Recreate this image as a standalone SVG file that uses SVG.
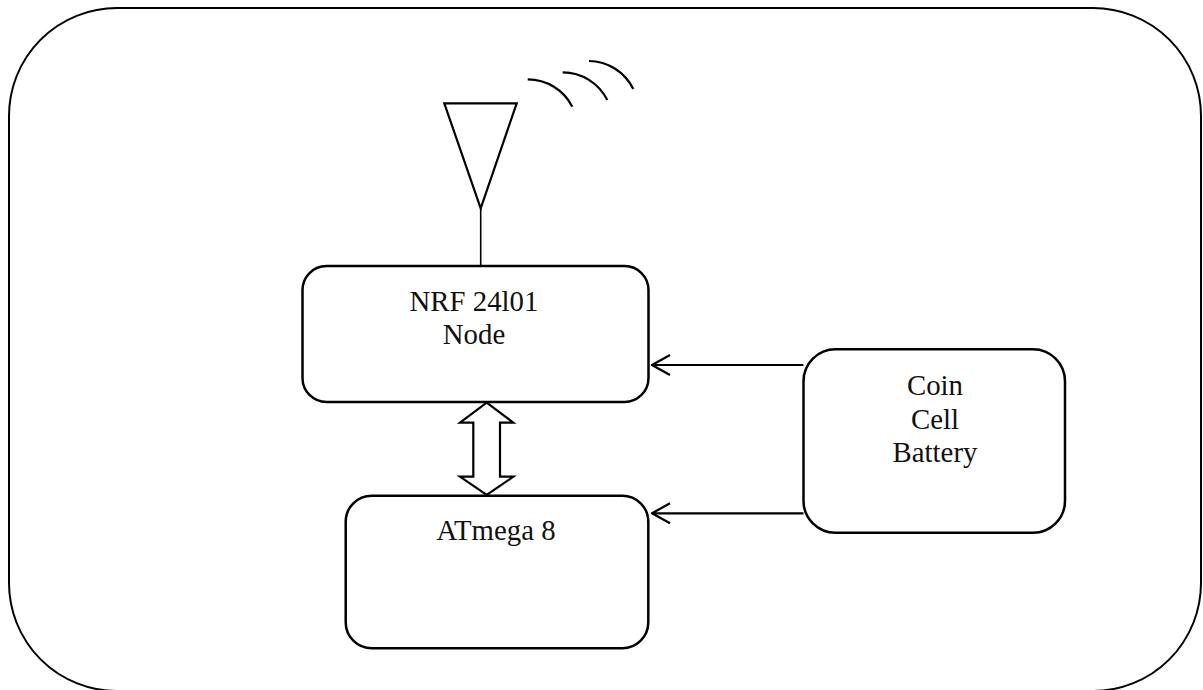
<svg xmlns="http://www.w3.org/2000/svg" width="1203" height="690" viewBox="0 0 1203 690">
<style>
.box{fill:#fff;stroke:#000;stroke-width:2.5}
.ln{fill:none;stroke:#000;stroke-width:2.2}
.lbl{font-family:"Liberation Serif","Times New Roman",serif;font-size:28.8px;fill:#111;text-anchor:middle}
</style>
<defs>
<marker id="open" viewBox="0 0 20 22" refX="19" refY="11" markerWidth="20" markerHeight="22" markerUnits="userSpaceOnUse" orient="auto">
<path d="M1,1 L19,11 L1,21" fill="none" stroke="#000" stroke-width="2.2"/>
</marker>
</defs>
<rect id="frame" x="9" y="8" width="1192" height="683" rx="108" ry="108" fill="#fff" stroke="#000" stroke-width="2"/>
<g id="antenna">
<path class="ln" d="M444.3,103.3 L516.7,103.3 L480.7,208.3 Z"/>
<line x1="480.7" y1="208.3" x2="480.7" y2="266" stroke="#000" stroke-width="1.6"/>
<path class="ln" d="M527.7,79.3 A50,50 0 0 1 572.3,106.7"/>
<path class="ln" d="M562.7,72.3 A50,50 0 0 1 607.3,100"/>
<path class="ln" d="M589,61 A50,50 0 0 1 633.3,89"/>
</g>
<g id="nrf">
<rect class="box" x="302.5" y="266" width="346" height="136" rx="24" ry="24"/>
<text class="lbl" x="474" y="311">NRF 24l01</text>
<text class="lbl" x="474" y="344">Node</text>
</g>
<g id="atmega">
<rect class="box" x="345.7" y="495.7" width="302.6" height="152.6" rx="26" ry="26"/>
<text class="lbl" x="496" y="540">ATmega 8</text>
</g>
<g id="battery">
<rect class="box" x="803.5" y="349.3" width="261.5" height="183.4" rx="32" ry="32"/>
<text class="lbl" x="935" y="395">Coin</text>
<text class="lbl" x="935" y="429">Cell</text>
<text class="lbl" x="935" y="462">Battery</text>
</g>
<g id="connectors">
<line class="ln" x1="803.5" y1="365" x2="652" y2="365" marker-end="url(#open)"/>
<line class="ln" x1="803.5" y1="513.3" x2="652" y2="513.3" marker-end="url(#open)"/>
<path class="ln" d="M486.7,402.7 L513.3,422.7 L500,422.7 L500,476.7 L513.3,476.7 L486.7,495 L460,476.7 L473.3,476.7 L473.3,422.7 L460,422.7 Z" fill="#fff"/>
</g>
</svg>
